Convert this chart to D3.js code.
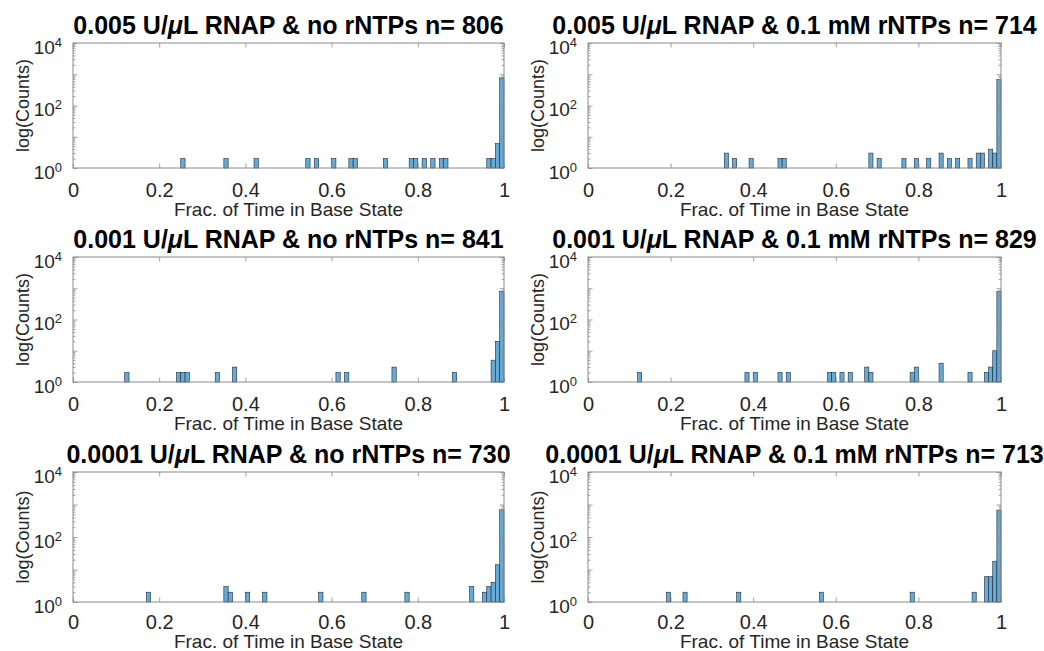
<!DOCTYPE html>
<html><head><meta charset="utf-8">
<script src="https://cdn.jsdelivr.net/npm/d3@7"></script>
<style>
body{margin:0;background:#fff}
svg{display:block}
text{font-family:"Liberation Sans",Arial,Helvetica,sans-serif}
</style></head>
<body><svg id="c" width="1044" height="651"></svg>
<script>
// ---- data ----
const titles = [
  "0.005 U/μL RNAP & no rNTPs n= 806",
  "0.005 U/μL RNAP & 0.1 mM rNTPs n= 714",
  "0.001 U/μL RNAP & no rNTPs n= 841",
  "0.001 U/μL RNAP & 0.1 mM rNTPs n= 829",
  "0.0001 U/μL RNAP & no rNTPs n= 730",
  "0.0001 U/μL RNAP & 0.1 mM rNTPs n= 713"
];
const bins1 = [0.25,0.35,0.42,0.54,0.56,0.60,0.64,0.65,0.72,0.78,0.79,0.81,0.83,0.85,0.86,0.96,0.97,0.98,0.99];
const counts1 = [2,2,2,2,2,2,2,2,2,2,2,2,2,2,2,2,2,6,766];
const bins2 = [0.33,0.35,0.39,0.46,0.47,0.68,0.70,0.76,0.79,0.82,0.85,0.87,0.89,0.92,0.94,0.95,0.97,0.98,0.99];
const counts2 = [3,2,2,2,2,3,2,2,2,2,3,2,2,2,3,3,4,3,670];
const bins3 = [0.12,0.24,0.25,0.26,0.33,0.37,0.61,0.63,0.74,0.88,0.97,0.98,0.99];
const counts3 = [2,2,2,2,2,3,2,2,3,2,5,20,794];
const bins4 = [0.12,0.38,0.40,0.46,0.48,0.58,0.59,0.61,0.63,0.67,0.68,0.78,0.79,0.85,0.92,0.96,0.97,0.98,0.99];
const counts4 = [2,2,2,2,2,2,2,2,2,3,2,2,3,4,2,2,3,10,780];
const bins5 = [0.17,0.35,0.36,0.40,0.44,0.57,0.67,0.77,0.92,0.95,0.96,0.97,0.98,0.99];
const counts5 = [2,3,2,2,2,2,2,2,3,2,3,4,14,687];
const bins6 = [0.19,0.23,0.36,0.56,0.78,0.93,0.96,0.97,0.98,0.99];
const counts6 = [2,2,2,2,2,2,6,6,18,671];
const binWidth = 0.01;
const xTicks = [0,0.2,0.4,0.6,0.8,1];
const xTickLabels = ["0","0.2","0.4","0.6","0.8","1"];
const yMajorExp = [0,2,4];
const xLabel = "Frac. of Time in Base State";
const yLabel = "log(Counts)";

// ---- layout ----
const colX = [[73,504],[588,1001]];
const rowY = [[43,168],[257,382],[472,602]];
const xLabelOffset = [48,48,46];
const xTickPad = [14.8,14.8,12.8];
const panelBins = [bins1,bins2,bins3,bins4,bins5,bins6];
const panelCounts = [counts1,counts2,counts3,counts4,counts5,counts6];

const svg = d3.select("#c");
const axisGray = "#8a8a8a";
const textCol = "#262626";

panelBins.forEach((bins,i)=>{
  const row = Math.floor(i/2);
  const [x0,x1] = colX[i%2];
  const [yt,yb] = rowY[row];
  const counts = panelCounts[i];
  const x = d3.scaleLinear().domain([0,1]).range([x0,x1]);
  const y = d3.scaleLog().domain([1,1e4]).range([yb,yt]);
  const g = svg.append("g");

  // bars
  g.append("g").selectAll("rect").data(bins.map((b,j)=>({b,c:counts[j]})))
    .join("rect")
    .attr("x",d=>x(d.b)).attr("width",d=>x(d.b+binWidth)-x(d.b))
    .attr("y",d=>y(d.c)).attr("height",d=>y(1)-y(d.c))
    .attr("fill","#66aad7").attr("stroke","#1d2a36").attr("stroke-width",0.6);

  // minor log ticks
  const minors = [];
  for(let k=0;k<4;k++) for(let m=2;m<=9;m++) minors.push(m*Math.pow(10,k));
  const allMaj = [1,10,100,1000,10000];

  const styleAxis = sel=>{ sel.select(".domain").remove(); sel.selectAll("line").attr("stroke",axisGray).attr("stroke-width",0.8); };

  g.append("g").attr("transform",`translate(${x0},0)`)
    .call(d3.axisLeft(y).tickValues(minors).tickSizeInner(-2.5).tickSizeOuter(0).tickFormat(""))
    .call(styleAxis);
  g.append("g").attr("transform",`translate(${x1},0)`)
    .call(d3.axisRight(y).tickValues(minors).tickSizeInner(-2.5).tickSizeOuter(0).tickFormat(""))
    .call(styleAxis);
  g.append("g").attr("transform",`translate(${x1},0)`)
    .call(d3.axisRight(y).tickValues(allMaj).tickSizeInner(-4.5).tickSizeOuter(0).tickFormat(""))
    .call(styleAxis);

  const yAx = g.append("g").attr("transform",`translate(${x0},0)`)
    .call(d3.axisLeft(y).tickValues(allMaj).tickSizeInner(-4.5).tickSizeOuter(0).tickPadding(11).tickFormat(""))
    .call(styleAxis);
  yAx.selectAll(".tick").each(function(d){
    const e = Math.round(Math.log10(d));
    if(!yMajorExp.includes(e)) return;
    const t = d3.select(this).select("text")
      .attr("dy",null).attr("y",10).attr("fill",textCol).attr("font-size",19);
    t.append("tspan").text("10");
    t.append("tspan").text(e).attr("font-size",13).attr("dy",-7);
  });

  g.append("g").attr("transform",`translate(0,${yb})`)
    .call(d3.axisBottom(x).tickValues(xTicks).tickSizeInner(-4.5).tickSizeOuter(0).tickPadding(xTickPad[row]).tickFormat((d,j)=>xTickLabels[j]))
    .call(styleAxis)
    .call(s=>s.selectAll("text").attr("fill",textCol).attr("font-size",20).attr("font-family",null));
  g.append("g").attr("transform",`translate(0,${yt})`)
    .call(d3.axisTop(x).tickValues(xTicks).tickSizeInner(-4.5).tickSizeOuter(0).tickFormat(""))
    .call(styleAxis);

  // box
  g.append("rect").attr("x",x0).attr("y",yt).attr("width",x1-x0).attr("height",yb-yt)
    .attr("fill","none").attr("stroke",axisGray).attr("stroke-width",1);

  // title
  const parts = titles[i].split("μ");
  const tt = g.append("text").attr("x",(x0+x1)/2).attr("y",yt-9)
    .attr("text-anchor","middle").attr("font-weight","bold").attr("font-size",25).attr("fill","#000");
  tt.append("tspan").text(parts[0]);
  tt.append("tspan").text("μ").attr("font-style","italic");
  tt.append("tspan").text(parts[1]);

  // axis labels
  g.append("text").attr("x",(x0+x1)/2).attr("y",yb+xLabelOffset[row]).attr("text-anchor","middle")
    .attr("font-size",19).attr("fill",textCol).text(xLabel);
  g.append("text").attr("transform",`translate(${x0-44},${(yt+yb)/2}) rotate(-90)`)
    .attr("text-anchor","middle").attr("font-size",18).attr("fill",textCol).text(yLabel);
});
</script></body></html>
